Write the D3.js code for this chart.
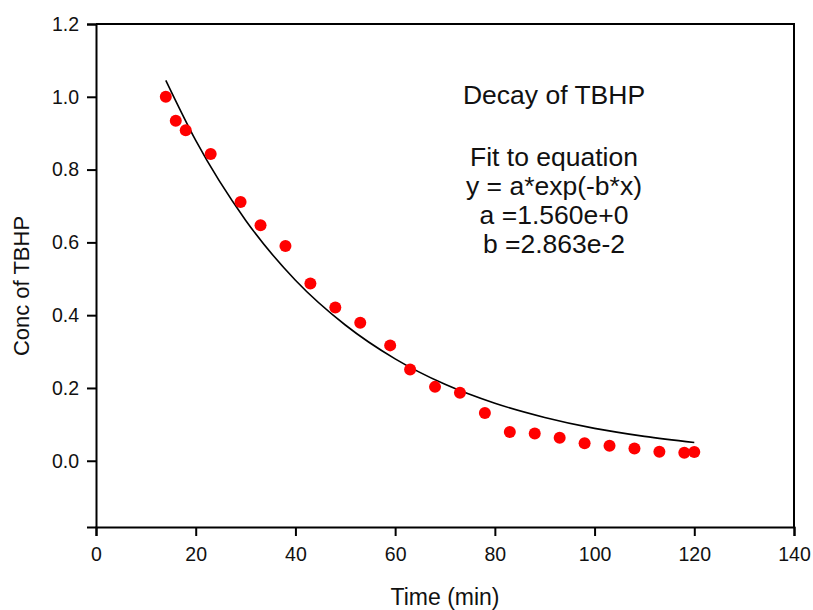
<!DOCTYPE html>
<html lang="en">
<head>
    <meta charset="UTF-8">
    <title>Decay of TBHP</title>
    <script src="https://d3js.org/d3.v7.min.js"></script>
    <style>
        body {
            margin: 0;
            background: #fff;
            font-family: "Liberation Sans", Arial, sans-serif;
        }
        .axis-title {
            font-size: 22px;
            fill: #111;
        }
        .note {
            font-size: 26.5px;
            fill: #111;
        }
    </style>
</head>
<body>

<div id="chart"></div>

<script>
// measured points (time in min, concentration)
const timeMin = [14, 16, 18, 23, 29, 33, 38, 43, 48, 53, 59, 63, 68, 73, 78, 83, 88, 93, 98, 103, 108, 113, 118, 120];
const conc = [1.0, 0.934, 0.908, 0.843, 0.711, 0.647, 0.590, 0.487, 0.421, 0.379, 0.317, 0.251, 0.203, 0.187,
              0.131, 0.079, 0.075, 0.063, 0.048, 0.041, 0.034, 0.025, 0.022, 0.024];

// fitted curve
const fitTime = [14, 20, 30, 40, 50, 60, 70, 80, 90, 100, 110, 120];
const fitConc = [1.045, 0.880, 0.661, 0.496, 0.373, 0.280, 0.210, 0.158, 0.119, 0.089, 0.067, 0.050];

const xTicks = [0, 20, 40, 60, 80, 100, 120, 140];
const yTicks = [0.0, 0.2, 0.4, 0.6, 0.8, 1.0, 1.2];

const titleText = "Decay of TBHP";
const noteLines = ["Fit to equation", "y = a*exp(-b*x)", "a =1.560e+0", "b =2.863e-2"];

const margin = { top: 24, right: 19, bottom: 83, left: 96 };
const width = 813 - margin.left - margin.right;
const height = 610 - margin.top - margin.bottom;

const svg = d3.select("#chart")
    .append("svg")
    .attr("width", 813)
    .attr("height", 610)
    .append("g")
    .attr("transform", `translate(${margin.left},${margin.top})`);

const x = d3.scaleLinear().domain([0, 140]).range([0, width]);
const y = d3.scaleLinear().domain([-0.182, 1.2]).range([height, 0]);

// frame (top and right sides)
svg.append("path")
    .attr("d", `M0,0H${width}V${height}`)
    .attr("fill", "none")
    .attr("stroke", "#000")
    .attr("stroke-width", 2);

// axes
const xAxis = svg.append("g")
    .attr("transform", `translate(0,${height})`)
    .call(d3.axisBottom(x).tickValues(xTicks).tickFormat(d3.format("d")).tickSize(9).tickPadding(16));

const yAxis = svg.append("g")
    .call(d3.axisLeft(y).tickValues(yTicks).tickFormat(d3.format(".1f")).tickSize(9).tickPadding(8));

[xAxis, yAxis].forEach(g => {
    g.attr("font-size", 19.5).attr("font-family", "'Liberation Sans', Arial, sans-serif");
    g.select(".domain").attr("stroke", "#000").attr("stroke-width", 2);
    g.selectAll(".tick line").attr("stroke", "#000").attr("stroke-width", 2);
    g.selectAll(".tick text").attr("fill", "#111");
});
xAxis.selectAll(".tick text").attr("dy", "0.45em");

// fitted curve
const line = d3.line()
    .x((d, i) => x(fitTime[i]))
    .y(d => y(d))
    .curve(d3.curveMonotoneX);

svg.append("path")
    .datum(fitConc)
    .attr("d", line)
    .attr("fill", "none")
    .attr("stroke", "#000")
    .attr("stroke-width", 1.6);

// data points
svg.selectAll(".dot")
    .data(conc)
    .join("circle")
    .attr("class", "dot")
    .attr("cx", (d, i) => x(timeMin[i]))
    .attr("cy", d => y(d))
    .attr("r", 6)
    .attr("fill", "#ff0000");

// annotation text
svg.append("text")
    .attr("class", "note")
    .attr("x", 458)
    .attr("y", 80)
    .attr("text-anchor", "middle")
    .text(titleText);

svg.selectAll(".note-line")
    .data(noteLines)
    .join("text")
    .attr("class", "note note-line")
    .attr("x", 458)
    .attr("y", (d, i) => 142 + i * 29)
    .attr("text-anchor", "middle")
    .text(d => d);

// axis titles
svg.append("text")
    .attr("class", "axis-title")
    .attr("x", width / 2)
    .attr("y", height + 78)
    .attr("text-anchor", "middle")
    .style("font-size", "23px")
    .text("Time (min)");

svg.append("text")
    .attr("class", "axis-title")
    .attr("transform", "rotate(-90)")
    .attr("x", -262)
    .attr("y", -67)
    .attr("text-anchor", "middle")
    .text("Conc of TBHP");
</script>

</body>
</html>
